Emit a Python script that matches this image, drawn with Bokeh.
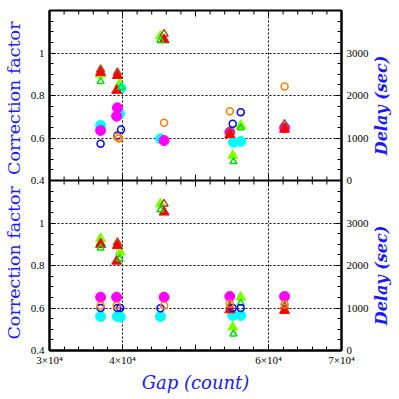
import math
from bokeh.plotting import figure
from bokeh.layouts import row
from bokeh.models import Range1d, LinearAxis, FixedTicker, Span, Label
from bokeh.embed import file_html
from bokeh.resources import INLINE

# ---------------- data ----------------
# x: Gap (count); triangles: correction factor; circles: delay (sec)
# upper panel
top_red_x = [37000, 39300, 39200, 45700, 54700, 62200]
top_red_y = [0.908, 0.894, 0.824, 1.062, 0.616, 0.641]
top_brown_x = [37000, 39300, 45700, 54700, 62200]
top_brown_y = [0.922, 0.908, 1.090, 0.632, 0.665]
top_lgreen_x = [37000, 39600, 45200, 56200, 55100]
top_lgreen_y = [0.900, 0.855, 1.080, 0.659, 0.518]
top_ogreen_x = [37000, 39800, 45200, 56200, 55200]
top_ogreen_y = [0.866, 0.838, 1.059, 0.648, 0.489]
top_mag_x = [37000, 39300, 39200, 45700, 54700, 62200]
top_mag_d = [1176, 1710, 1513, 941, 1137, 1240]
top_cyan_x = [37000, 39800, 39600, 45200, 55200, 56200]
top_cyan_d = [1294, 2170, 1570, 981, 900, 918]
top_blue_x = [37000, 39800, 39300, 55100, 56200]
top_blue_d = [864, 1200, 1060, 1333, 1608]
top_orange_x = [39300, 39500, 45700, 54700, 62200]
top_orange_d = [1030, 990, 1357, 1631, 2212]

# lower panel
bot_red_x = [37000, 39300, 39200, 45700, 54700, 62200]
bot_red_y = [0.899, 0.894, 0.820, 1.051, 0.591, 0.588]
bot_brown_x = [37000, 39300, 45700, 54700, 62200]
bot_brown_y = [0.905, 0.908, 1.090, 0.607, 0.607]
bot_lgreen_x = [37000, 39700, 45200, 56200, 55100]
bot_lgreen_y = [0.926, 0.863, 1.090, 0.651, 0.510]
bot_ogreen_x = [37000, 39600, 45200, 56200, 55200]
bot_ogreen_y = [0.883, 0.832, 1.062, 0.623, 0.478]
bot_mag_x = [37000, 39200, 45700, 54700, 62200]
bot_mag_d = [1255, 1255, 1255, 1270, 1270]
bot_orange_x = [37000, 39200, 45700, 54700, 62200]
bot_orange_d = [1060, 1060, 1060, 1100, 1080]
bot_blue_x = [37000, 39300, 39700, 45200, 55100, 56200]
bot_blue_d = [1000, 1000, 1000, 995, 1000, 1000]
bot_cyan_x = [37000, 39300, 39700, 45200, 55100, 56200]
bot_cyan_d = [800, 800, 790, 800, 825, 825]

x_label_ticks = [30000, 40000, 60000, 70000]
x_tick_labels = {30000: "3×10⁴", 40000: "4×10⁴", 60000: "6×10⁴", 70000: "7×10⁴"}
x_major_all = [30000, 40000, 50000, 60000, 70000]
x_minor = list(range(30000, 70001, 2000))
cf_ticks = [0.4, 0.6, 0.8, 1.0, 1.2, 1.4, 1.6, 1.8]
cf_tick_labels = {0.4: "0.4", 0.6: "0.6", 0.8: "0.8", 1.0: "1", 1.2: "0.4",
                  1.4: "0.6", 1.6: "0.8", 1.8: "1"}
d_ticks = [0, 1000, 2000, 3000, 4000, 5000, 6000, 7000]
d_tick_labels = {0: "0", 1000: "1000", 2000: "2000", 3000: "3000", 4000: "0",
                 5000: "1000", 6000: "2000", 7000: "3000"}
panel_centres = [0.8, 1.6]

# ---------------- colours / styles ----------------
RED = "#ff0000"
BROWN = "#a0522d"
LGREEN = "#7fff00"
OGREEN = "#00e000"
MAG = "#ff00ff"
CYAN = "#00ffff"
BLUE = "#0000ff"
ORANGE = "#ff7f00"
LBL = "#1a1aff"
SERIF = "DejaVu Serif"
TICKFONT = "Liberation Serif"
NB = "\u00a0"

p = figure(frame_width=292, frame_height=340,
           x_range=Range1d(30000, 70000), y_range=Range1d(0.4, 2.0),
           output_backend="svg", toolbar_location=None,
           min_border_left=49, min_border_right=29, min_border_top=10, min_border_bottom=42)
p.extra_y_ranges = {
    "top_cf": Range1d(-0.4, 1.2),
    "top_delay": Range1d(-4000, 4000),
    "bot_delay": Range1d(0, 8000),
}
p.background_fill_color = "white"
p.border_fill_color = "white"
p.outline_line_color = "black"
p.outline_line_width = 2

# grids
for g in (p.xgrid, p.ygrid):
    g.grid_line_color = "black"
    g.grid_line_dash = "2 2"
    g.grid_line_width = 1
p.xgrid.ticker = FixedTicker(ticks=[40000, 60000])
p.ygrid.ticker = FixedTicker(ticks=[0.6, 0.8, 1.0, 1.4, 1.6, 1.8])

def style_axis(ax):
    ax.axis_line_width = 2
    ax.axis_line_color = "black"
    ax.major_tick_in = 6
    ax.major_tick_out = 0
    ax.minor_tick_in = 4
    ax.minor_tick_out = 0
    ax.major_tick_line_width = 1
    ax.minor_tick_line_width = 1
    ax.major_label_text_font = TICKFONT
    ax.major_label_text_font_size = "11px"
    ax.major_label_text_color = "black"

xa = p.xaxis[0]
xa.ticker = FixedTicker(ticks=x_label_ticks, minor_ticks=x_minor)
xa.major_label_overrides = x_tick_labels
style_axis(xa)
xa.major_label_standoff = 3
xa.axis_label = "Gap (count)"
xa.axis_label_text_font = SERIF
xa.axis_label_text_font_style = "italic"
xa.axis_label_text_font_size = "18px"
xa.axis_label_text_color = LBL
xa.axis_label_standoff = 3

ya = p.yaxis[0]
ya.ticker = FixedTicker(ticks=cf_ticks, minor_ticks=[round(0.4 + 0.05 * i, 2) for i in range(33)])
ya.major_label_overrides = cf_tick_labels
style_axis(ya)
ya.major_label_standoff = 5
ya.axis_label = "Correction factor" + NB * 2 + "Correction factor"
ya.axis_label_text_font = SERIF
ya.axis_label_text_font_style = "normal"
ya.axis_label_text_font_size = "17.5px"
ya.axis_label_text_color = LBL
ya.axis_label_standoff = 4

right_ax = LinearAxis(y_range_name="bot_delay",
                      ticker=FixedTicker(ticks=d_ticks, minor_ticks=list(range(0, 8001, 250))))
right_ax.major_label_overrides = d_tick_labels
style_axis(right_ax)
right_ax.major_label_standoff = 5
p.add_layout(right_ax, "right")

# panel separator, top edge ticks and the unlabeled 5x10^4 tick
p.add_layout(Span(location=1.2, dimension="width", line_color="black", line_width=2))
x_minor_only = [v for v in x_minor if v not in x_major_all]
x_major_inner = [v for v in x_major_all if v not in (30000, 70000)]
for yy, angs in ((2.0, (-math.pi / 2,)), (1.2, (math.pi / 2, -math.pi / 2))):
    for ang in angs:
        p.ray(x=x_major_inner, y=[yy] * len(x_major_inner), length=6, length_units="screen",
              angle=ang, line_color="black", line_width=1)
        p.ray(x=x_minor_only, y=[yy] * len(x_minor_only), length=4, length_units="screen",
              angle=ang, line_color="black", line_width=1)
p.ray(x=[50000], y=[0.4], length=6, length_units="screen", angle=math.pi / 2,
      line_color="black", line_width=1)

# ---------------- marks ----------------
def panel(cfr, dr, lg, cy, mg, br, rd, og, bl, orr):
    p.scatter(lg[0], lg[1], marker="triangle", size=10, fill_color=LGREEN, line_color=LGREEN, y_range_name=cfr)
    p.scatter(cy[0], cy[1], marker="circle", size=10, fill_color=CYAN, line_color=CYAN, y_range_name=dr)
    p.scatter(mg[0], mg[1], marker="circle", size=10, fill_color=MAG, line_color=MAG, y_range_name=dr)
    p.scatter(br[0], br[1], marker="triangle", size=8, fill_color=None, line_color=BROWN, line_width=1.5, y_range_name=cfr)
    p.scatter(rd[0], rd[1], marker="triangle", size=10, fill_color=RED, line_color=RED, y_range_name=cfr)
    p.scatter(og[0], og[1], marker="triangle", size=7, fill_color=None, line_color=OGREEN, line_width=1.5, y_range_name=cfr)
    p.scatter(bl[0], bl[1], marker="circle", size=7, fill_color=None, line_color=BLUE, line_width=1.5, y_range_name=dr)
    p.scatter(orr[0], orr[1], marker="circle", size=7, fill_color=None, line_color=ORANGE, line_width=1.5, y_range_name=dr)

panel("top_cf", "top_delay",
      (top_lgreen_x, top_lgreen_y), (top_cyan_x, top_cyan_d), (top_mag_x, top_mag_d),
      (top_brown_x, top_brown_y), (top_red_x, top_red_y), (top_ogreen_x, top_ogreen_y),
      (top_blue_x, top_blue_d), (top_orange_x, top_orange_d))
panel("default", "bot_delay",
      (bot_lgreen_x, bot_lgreen_y), (bot_cyan_x, bot_cyan_d), (bot_mag_x, bot_mag_d),
      (bot_brown_x, bot_brown_y), (bot_red_x, bot_red_y), (bot_ogreen_x, bot_ogreen_y),
      (bot_blue_x, bot_blue_d), (bot_orange_x, bot_orange_d))

# ---------------- narrow strip on the right holding the "Delay (sec)" titles ----------------
# its vertical range is the main plot's correction-factor scale extended over the whole canvas
canvas_top_cf = 2.0 + 10 * 1.6 / 340
canvas_bot_cf = 0.4 - 42 * 1.6 / 340
q = figure(frame_width=22, frame_height=392, x_range=Range1d(0, 1),
           y_range=Range1d(canvas_bot_cf, canvas_top_cf),
           output_backend="svg", toolbar_location=None,
           x_axis_location=None, y_axis_location=None,
           min_border_left=0, min_border_right=0, min_border_top=0, min_border_bottom=0)
q.outline_line_color = None
q.xgrid.visible = False
q.ygrid.visible = False
q.background_fill_color = "white"
q.border_fill_color = "white"
for yc in panel_centres:
    q.add_layout(Label(x=0.45, y=yc, text="Delay (sec)", angle=math.pi / 2,
                       text_align="center", text_baseline="middle",
                       text_font=SERIF, text_font_style="bold italic", text_font_size="16px",
                       text_color=LBL))

layout = row(p, q)
open("out.html", "w").write(file_html(layout, INLINE))
